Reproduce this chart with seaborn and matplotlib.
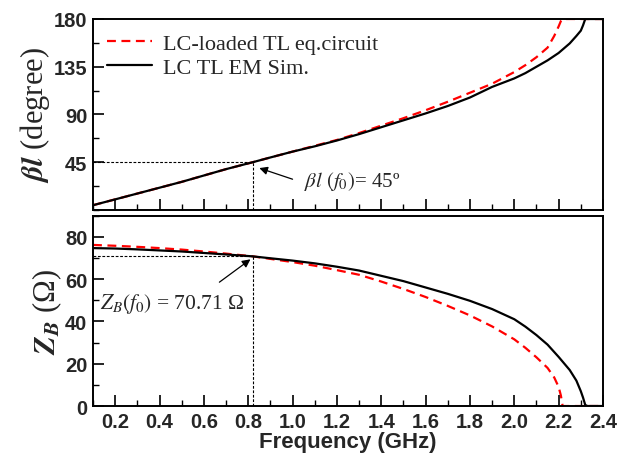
import matplotlib
matplotlib.use("Agg")
import matplotlib.pyplot as plt
import seaborn as sns
from matplotlib.ticker import MultipleLocator

# -----------------------------
# Data
# -----------------------------
freq_eq = [0.1, 0.2, 0.3, 0.4, 0.5, 0.6, 0.7, 0.82, 0.9, 1.0, 1.1, 1.2, 1.3, 1.4,
           1.5, 1.6, 1.7, 1.8, 1.9, 2.0, 2.05, 2.1, 2.15, 2.18, 2.2, 2.21, 2.218, 2.3, 2.4]
bl_eq = [4.5, 10, 15.5, 21, 26.5, 32.5, 38.5, 45, 49.5, 55, 60.5, 66, 72.5, 79.5,
         86.5, 94, 102, 110.5, 119, 130, 136.5, 144, 153, 164, 173, 178, 180, 180, 180]
zb_eq = [76.1, 75.7, 75.2, 74.6, 73.9, 73, 72, 70.7, 69.5, 68, 66.3, 64.2, 62, 58.8,
         55.3, 51.5, 47.3, 42.8, 37.6, 31.5, 27.5, 23, 18, 13.5, 9, 5, 0, 0, 0]

freq_em = [0.1, 0.2, 0.3, 0.4, 0.5, 0.6, 0.7, 0.82, 0.9, 1.0, 1.1, 1.2, 1.3, 1.4,
           1.5, 1.6, 1.7, 1.8, 1.9, 2.0, 2.05, 2.1, 2.15, 2.2, 2.25, 2.28, 2.3, 2.31,
           2.32, 2.33, 2.4]
bl_em = [4.5, 10, 15.5, 21, 26.5, 32.5, 38.5, 45, 49.5, 55, 60, 65.5, 71.5, 78,
         84.5, 91, 98, 106, 116, 124, 129, 135, 141, 148, 157, 164, 169, 174,
         180, 180, 180]
zb_em = [74.6, 74.4, 74.0, 73.5, 73, 72.3, 71.6, 70.7, 69.8, 68.7, 67.4, 65.8, 64, 61.5,
         59, 56, 53, 49.7, 45.8, 41, 37.5, 33.5, 29, 23.2, 17, 12, 7, 4,
         0.5, 0, 0]

f0 = 0.82
bl_f0 = 45
zb_f0 = 70.71
xticks = [0.2, 0.4, 0.6, 0.8, 1.0, 1.2, 1.4, 1.6, 1.8, 2.0, 2.2, 2.4]
bl_ticks = [45, 90, 135, 180]
zb_ticks = [0, 20, 40, 60, 80]

sns.set_style("ticks")
plt.rcParams['font.family'] = ['Liberation Sans', 'DejaVu Sans']
plt.rcParams['mathtext.fontset'] = 'stix'
plt.rcParams['axes.axisbelow'] = False
plt.rcParams['xtick.direction'] = 'in'
plt.rcParams['ytick.direction'] = 'in'
plt.rcParams['xtick.major.size'] = 8
plt.rcParams['ytick.major.size'] = 8
plt.rcParams['xtick.minor.size'] = 4
plt.rcParams['ytick.minor.size'] = 4
plt.rcParams['xtick.major.width'] = 1.2
plt.rcParams['ytick.major.width'] = 1.2
plt.rcParams['axes.edgecolor'] = 'black'
plt.rcParams['axes.linewidth'] = 1.4

serif = 'Liberation Serif'
dash_ref = (0, (2.5, 1.5))
dash_eq = (0, (4, 2.5))

fig = plt.figure(figsize=(6.31, 4.64), dpi=100)
ax1 = fig.add_axes([0.1474, 0.5453, 0.8082, 0.4116])
ax2 = fig.add_axes([0.1474, 0.1228, 0.8082, 0.4106])

# ---------------------------------------
# Curves
# ---------------------------------------
for ax, y_eq, y_em in ((ax1, bl_eq, bl_em), (ax2, zb_eq, zb_em)):
    sns.lineplot(x=freq_eq, y=y_eq, ax=ax, color='red', lw=1.6, linestyle=dash_eq,
                 label='LC-loaded TL eq.circuit' if ax is ax1 else None, legend=False)
    sns.lineplot(x=freq_em, y=y_em, ax=ax, color='black', lw=1.6,
                 label='LC TL EM Sim.' if ax is ax1 else None, legend=False)
    ax.set_xlim(0.1, 2.4)
    ax.set_xticks(xticks)
    ax.xaxis.set_minor_locator(MultipleLocator(0.1))
    ax.tick_params(which='major', length=8, width=1.2, labelsize=14.5, pad=4)
    ax.tick_params(which='minor', length=4, width=1.0)

# ---------------------------------------
# Reference lines at f0
# ---------------------------------------
ax1.plot([0.1, f0], [bl_f0, bl_f0], color='black', lw=0.8, ls=dash_ref)
ax1.plot([f0, f0], [0, bl_f0], color='black', lw=0.8, ls=dash_ref)
ax2.plot([0.1, f0], [zb_f0, zb_f0], color='black', lw=0.8, ls=dash_ref)
ax2.plot([f0, f0], [0, zb_f0], color='black', lw=0.8, ls=dash_ref)

ax1.annotate('', xy=(0.85, 39.5), xytext=(1.0, 29),
             arrowprops=dict(arrowstyle='-|>', color='black', lw=0.9,
                             mutation_scale=12, shrinkA=0, shrinkB=0))
ax1.text(1.05, 27.5, r'$\beta l\ (f_0)$= 45º', fontsize=15, family=serif,
         va='center', ha='left')
ax2.annotate('', xy=(0.81, 69.3), xytext=(0.67, 58.5),
             arrowprops=dict(arrowstyle='-|>', color='black', lw=0.9,
                             mutation_scale=12, shrinkA=0, shrinkB=0))
ax2.text(0.13, 48.5, r'$Z_B(f_0)$ = 70.71 Ω', fontsize=15.5, family=serif,
         va='center', ha='left')

# ---------------------------------------
# Axes details
# ---------------------------------------
ax1.set_ylim(0, 180)
ax1.set_yticks(bl_ticks)
ax1.yaxis.set_minor_locator(MultipleLocator(22.5))
ax1.tick_params(labelbottom=False)
ax1.set_ylabel(r'$\mathbfit{\beta l}$ (degree)', fontsize=22, family=serif, labelpad=1)
ax1.legend(loc='upper left', frameon=False, prop={'family': serif, 'size': 16},
           handlelength=2.0, handletextpad=0.5, borderaxespad=0.25,
           labelspacing=0.15)

ax2.set_ylim(0, 90)
ax2.set_yticks(zb_ticks)
ax2.yaxis.set_minor_locator(MultipleLocator(10))
ax2.set_xlabel('Frequency (GHz)', fontsize=16, fontweight='bold', labelpad=0)
ax2.set_ylabel(r'$\mathbfit{Z_B}$ (Ω)', fontsize=22, family=serif, labelpad=1)

for ax in (ax1, ax2):
    ax.tick_params(which='both', direction='in', bottom=True, left=True,
                   top=False, right=False, color='black')
    for lab in ax.get_xticklabels() + ax.get_yticklabels():
        lab.set_fontweight('bold')

fig.savefig("out.png", dpi=100)
